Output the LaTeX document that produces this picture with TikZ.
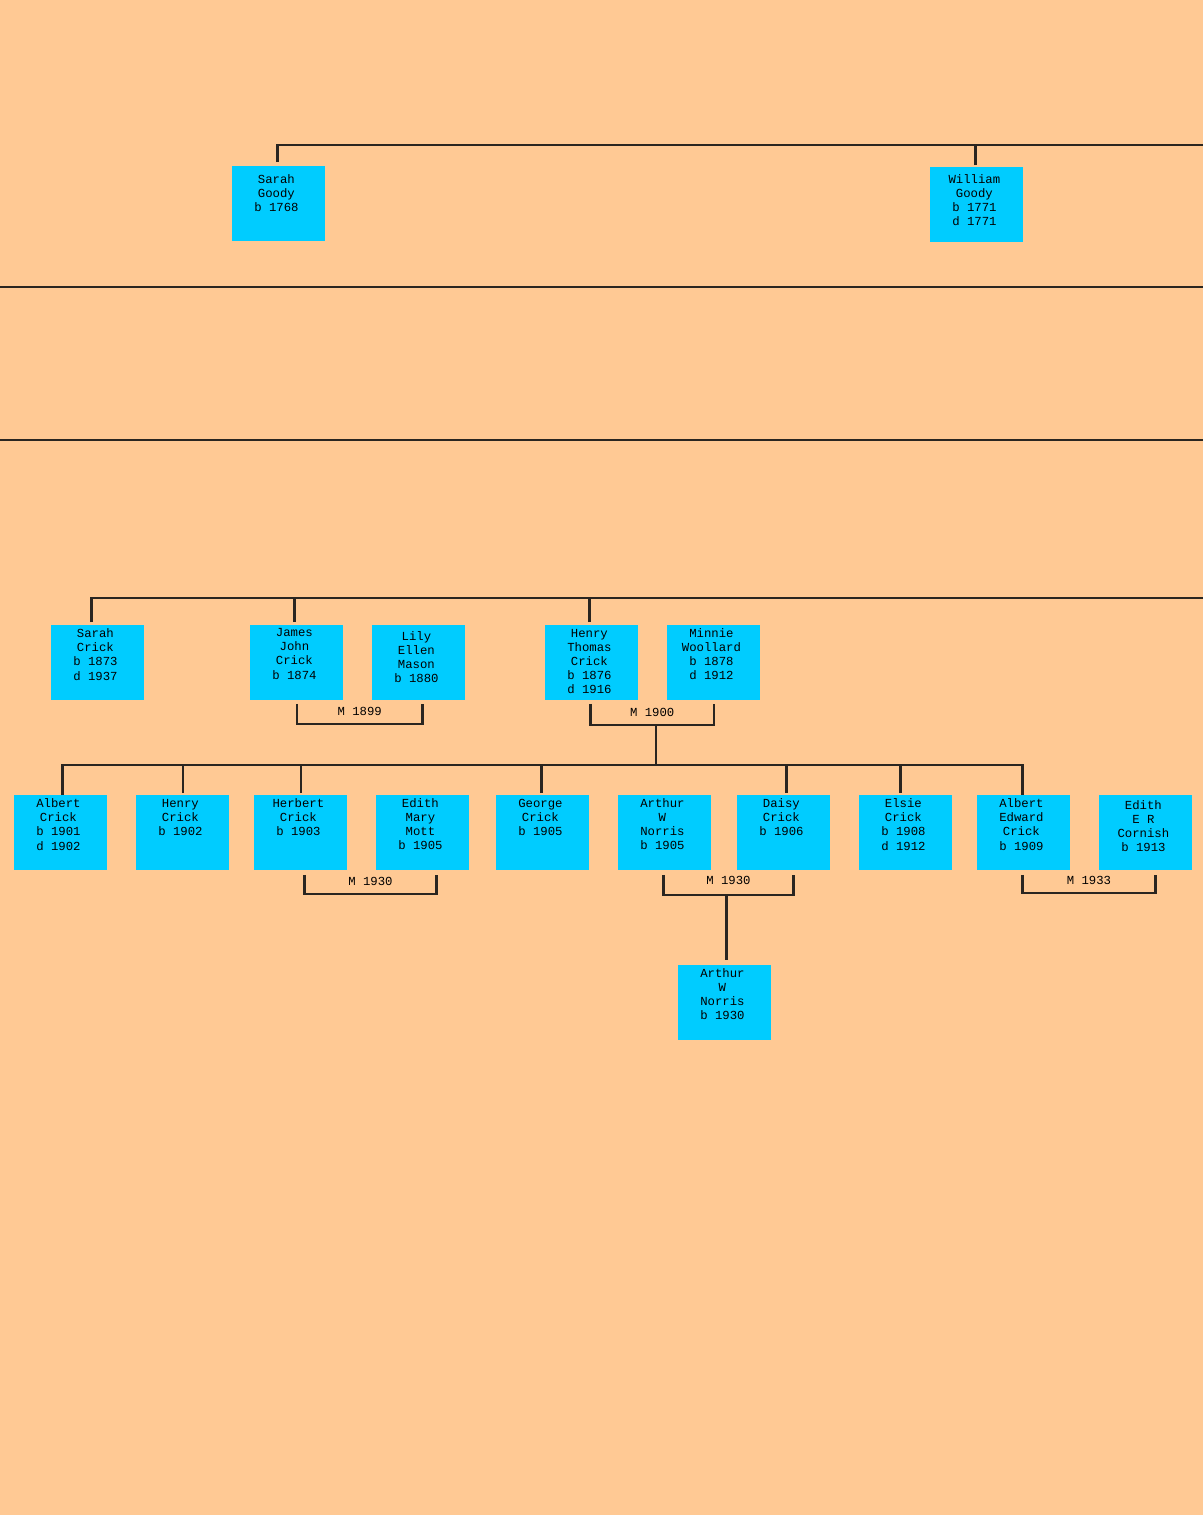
\documentclass[tikz,border=0pt]{standalone}
\usepackage{fontspec}
\newfontfamily\treefont{Liberation Mono}
\definecolor{peach}{HTML}{FFC994}
\definecolor{boxblue}{HTML}{00CCFF}
\definecolor{linecol}{HTML}{2A2520}
\tikzset{every picture/.style={x=0.5pt, y=-0.5pt}}
\tikzset{pbox/.style={fill=boxblue, anchor=north west, minimum width=46.5pt, minimum height=37.5pt, inner sep=0pt}}
\tikzset{ptext/.style={anchor=base, inner sep=0pt, font=\treefont\fontsize{6.15}{7.1}\selectfont}}
\tikzset{mlab/.style={anchor=base, inner sep=0pt, yshift=4pt, font=\treefont\fontsize{6.15}{7.1}\selectfont}}
\tikzset{link/.style={draw=linecol, line width=1.1pt}}
% box and its text, first baseline #4 below the top
\newcommand{\who}[5]{%
\node[pbox] (#1) at (#2,#3) {};
\node[ptext] (#1t) at ([xshift=-1.25pt,yshift=-#4pt]#1.north) {\begin{tabular}[t]{@{}c@{}}#5\end{tabular}};}

\begin{document}
\begin{tikzpicture}
\useasboundingbox (0,0) rectangle (1203,1515);
\fill[peach] (0,0) rectangle (1203,1515);
\draw[link] (0,287) -- (1203,287);
\draw[link] (0,440) -- (1203,440);

% Goody
\who{sg}{232}{166}{8.5}{Sarah\\Goody\\b 1768}
\who{wg}{930}{167}{8}{William\\Goody\\b 1771\\d 1771}
\coordinate (gend) at (1203,145);
\draw[link] ([xshift=-0.75pt,yshift=2pt]sg.north) |- (gend);
\draw[link] ([xshift=-0.75pt,yshift=1pt]wg.north) -- ([xshift=-0.75pt]wg.north |- gend);

% Crick
\who{sc}{51}{625}{6.25}{Sarah\\Crick\\b 1873\\d 1937}
\who{jjc}{250}{625}{5.75}{James\\John\\Crick\\b 1874}
\who{lem}{372}{625}{7.5}{Lily\\Ellen\\Mason\\b 1880}
\who{htc}{545}{625}{6}{Henry\\Thomas\\Crick\\b 1876\\d 1916}
\who{mw}{667}{625}{6}{Minnie\\Woollard\\b 1878\\d 1912}
\coordinate (cend) at (1203,598);
\draw[link] ([xshift=-3.25pt,yshift=1.5pt]sc.north) |- (cend);
\foreach \id/\dx in {jjc/-1.25, htc/-1.25}
  \draw[link] ([xshift=\dx pt,yshift=1.5pt]\id.north) -- ([xshift=\dx pt]\id.north |- cend);
\draw[link] ([yshift=-1.5pt]jjc.south) -- ++(0,20) -| node[mlab,pos=0.25] (m1899) {M 1899} ([xshift=1.75pt,yshift=-1.5pt]lem.south);
\draw[link] ([xshift=-0.75pt,yshift=-1.5pt]htc.south) -- ++(0,21) -| node[mlab,pos=0.25] (m1900) {M 1900} coordinate[pos=0.25,xshift=2pt] (hmw) ([yshift=-1.5pt]mw.south);

% children
\who{ac}{14}{795}{6.25}{Albert\\Crick\\b 1901\\d 1902}
\who{hc}{136}{795}{6.25}{Henry\\Crick\\b 1902}
\who{hbc}{254}{795}{6.25}{Herbert\\Crick\\b 1903}
\who{emm}{376}{795}{6}{Edith\\Mary\\Mott\\b 1905}
\who{gc}{496}{795}{6.25}{George\\Crick\\b 1905}
\who{awn}{618}{795}{6}{Arthur\\W\\Norris\\b 1905}
\who{dc}{737}{795}{6}{Daisy\\Crick\\b 1906}
\who{ec}{859}{795}{6.25}{Elsie\\Crick\\b 1908\\d 1912}
\who{aec}{977}{795}{6.25}{Albert\\Edward\\Crick\\b 1909}
\who{erc}{1099}{795}{7}{Edith\\E R\\Cornish\\b 1913}
\who{awj}{678}{965}{6}{Arthur\\W\\Norris\\b 1930}

\draw[link] ([xshift=0.75pt]ac.north) -- ++(0,-30) coordinate (kids) -| ([xshift=-0.75pt]aec.north);
\foreach \id/\dx in {hc/0, hbc/0, gc/-0.75, dc/1.25, ec/-2.75}
  \draw[link] ([xshift=\dx pt,yshift=1pt]\id.north) -- ([xshift=\dx pt]\id.north |- kids);
\draw[link] (hmw) -- (hmw |- kids);

\draw[link] ([xshift=1.75pt,yshift=-2pt]hbc.south) -- ++(0,19) -| node[mlab,pos=0.25] (m1930a) {M 1930} ([xshift=6.75pt,yshift=-2pt]emm.south);
\draw[link] ([xshift=-0.75pt,yshift=-2pt]awn.south) -- ++(0,20) -| node[mlab,pos=0.25,yshift=1pt] (m1930b) {M 1930} coordinate[pos=0.25,xshift=-1pt] (awd) ([xshift=4.75pt,yshift=-2pt]dc.south);
\draw[link] (awd) -- ([yshift=2.5pt]awd |- awj.north);
\draw[link] ([xshift=-0.75pt,yshift=-2pt]aec.south) -- ++(0,18) -| node[mlab,pos=0.25] (m1933) {M 1933} ([xshift=4.75pt,yshift=-2pt]erc.south);
\end{tikzpicture}
\end{document}
